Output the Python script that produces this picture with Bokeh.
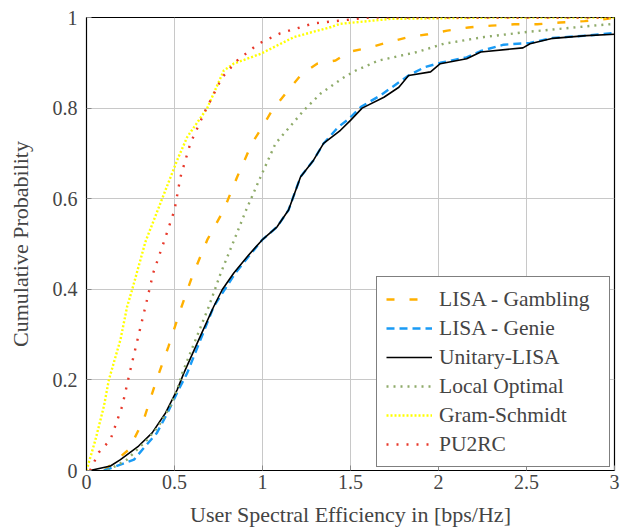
from bokeh.plotting import figure
from bokeh.models import Legend, LegendItem, FixedTicker, Range1d
from bokeh.embed import file_html
from bokeh.resources import INLINE

# ---- data ----
gambling_x = [0.10, 0.24, 0.325, 0.392, 0.466, 0.534, 0.60, 0.686, 0.78, 0.856, 0.94, 0.998, 1.055, 1.16,
              1.225, 1.31, 1.415, 1.49, 1.61, 1.72, 1.83, 1.94, 2.05, 2.17, 2.30, 2.43, 2.56, 2.69, 2.83, 2.96, 3.0]
gambling_y = [0.0, 0.046, 0.112, 0.193, 0.274, 0.355, 0.428, 0.509, 0.575, 0.648, 0.722, 0.758, 0.795, 0.846,
              0.876, 0.898, 0.905, 0.924, 0.934, 0.946, 0.957, 0.963, 0.971, 0.978, 0.982, 0.985, 0.985, 0.989, 0.992, 0.997, 1.0]

genie_x = [0.10, 0.27, 0.335, 0.40, 0.46, 0.523, 0.572, 0.648, 0.723, 0.846, 0.998, 1.083, 1.148, 1.216, 1.29,
           1.347, 1.43, 1.49, 1.56, 1.67, 1.75, 1.83, 1.92, 2.01, 2.16, 2.24, 2.37, 2.52, 2.65, 2.84, 3.0]
genie_y = [0.0, 0.024, 0.054, 0.083, 0.127, 0.178, 0.215, 0.289, 0.362, 0.436, 0.509, 0.538, 0.575, 0.648, 0.685,
           0.722, 0.758, 0.776, 0.803, 0.828, 0.850, 0.872, 0.890, 0.900, 0.912, 0.926, 0.940, 0.944, 0.955, 0.960, 0.966]

unitary_x = [0.02, 0.136, 0.193, 0.296, 0.373, 0.449, 0.515, 0.553, 0.638, 0.723, 0.771, 0.837, 0.913, 0.998,
             1.083, 1.148, 1.216, 1.29, 1.347, 1.443, 1.50, 1.566, 1.69, 1.775, 1.83, 1.955, 2.01, 2.16, 2.24,
             2.48, 2.52, 2.65, 2.84, 3.0]
unitary_y = [0.0, 0.010, 0.024, 0.054, 0.083, 0.127, 0.178, 0.215, 0.289, 0.362, 0.399, 0.436, 0.472, 0.509,
             0.538, 0.575, 0.648, 0.685, 0.722, 0.751, 0.773, 0.800, 0.824, 0.846, 0.872, 0.880, 0.898, 0.909,
             0.924, 0.933, 0.942, 0.954, 0.960, 0.963]

local_x = [0.12, 0.23, 0.345, 0.41, 0.477, 0.515, 0.544, 0.62, 0.695, 0.763, 0.835, 0.907, 0.989, 1.074, 1.235,
           1.33, 1.455, 1.53, 1.66, 1.88, 2.03, 2.26, 2.50, 2.69, 2.88, 3.0]
local_y = [0.0, 0.024, 0.068, 0.098, 0.142, 0.178, 0.215, 0.289, 0.362, 0.436, 0.505, 0.575, 0.648, 0.722, 0.795,
           0.832, 0.866, 0.883, 0.905, 0.924, 0.942, 0.957, 0.968, 0.975, 0.982, 0.986]

gram_x = [0.0, 0.051, 0.099, 0.127, 0.193, 0.231, 0.26, 0.335, 0.43, 0.515, 0.572, 0.686, 0.78, 0.836, 0.99,
          1.18, 1.39, 1.44, 1.73, 2.34, 3.0]
gram_y = [0.0, 0.068, 0.142, 0.2, 0.289, 0.362, 0.4, 0.505, 0.6, 0.685, 0.736, 0.8, 0.883, 0.898, 0.92,
          0.957, 0.979, 0.986, 0.997, 1.0, 1.0]

pu2rc_x = [0.02, 0.07, 0.136, 0.203, 0.245, 0.29, 0.335, 0.379, 0.44, 0.50, 0.534, 0.59, 0.676, 0.771, 0.856,
           0.977, 1.10, 1.29, 1.61, 3.0]
pu2rc_y = [0.0, 0.04, 0.068, 0.142, 0.215, 0.289, 0.362, 0.436, 0.505, 0.575, 0.648, 0.722, 0.795, 0.868, 0.905,
           0.942, 0.965, 0.987, 1.0, 1.0]

x_ticks = [0, 0.5, 1, 1.5, 2, 2.5, 3]
y_ticks = [0, 0.2, 0.4, 0.6, 0.8, 1]
x_tick_labels = {0: "0", 0.5: "0.5", 1: "1", 1.5: "1.5", 2: "2", 2.5: "2.5", 3: "3"}
y_tick_labels = {0: "0", 0.2: "0.2", 0.4: "0.4", 0.6: "0.6", 0.8: "0.8", 1: "1"}

FONT = "Liberation Serif"

p = figure(width=623, height=529, output_backend="svg", toolbar_location=None,
           x_range=Range1d(0, 3), y_range=Range1d(0, 1),
           min_border_left=86, min_border_right=9, min_border_top=17, min_border_bottom=58)
p.background_fill_color = "white"
p.border_fill_color = "white"
p.outline_line_color = "black"
p.outline_line_width = 1.2

for ax in (p.xaxis[0], p.yaxis[0]):
    ax.major_label_text_font = FONT
    ax.major_label_text_font_size = "20px"
    ax.axis_label_text_font = FONT
    ax.axis_label_text_font_size = "22px"
    ax.axis_label_text_font_style = "normal"
    ax.major_tick_in = 5
    ax.major_tick_out = 0
    ax.minor_tick_in = 0
    ax.minor_tick_out = 0
    ax.major_tick_line_color = "#888888"
    ax.axis_line_color = "black"

p.xaxis[0].ticker = FixedTicker(ticks=x_ticks)
p.yaxis[0].ticker = FixedTicker(ticks=y_ticks)
p.xaxis[0].major_label_overrides = x_tick_labels
p.yaxis[0].major_label_overrides = y_tick_labels
p.xaxis[0].axis_label = "User Spectral Efficiency in [bps/Hz]"
p.yaxis[0].axis_label = "Cumulative Probability"
p.xaxis[0].major_label_standoff = 4
p.yaxis[0].major_label_standoff = 9
p.xaxis[0].axis_label_standoff = 10
p.yaxis[0].axis_label_standoff = 17

p.xgrid.ticker = FixedTicker(ticks=x_ticks)
p.ygrid.ticker = FixedTicker(ticks=y_ticks)
p.grid.grid_line_color = "#c8c8c8"
p.grid.grid_line_width = 1

r_gam = p.line(gambling_x, gambling_y, line_color="#FFB000", line_width=2.4, line_dash="8 15")
r_gen = p.line(genie_x, genie_y, line_color="#1A9BF5", line_width=2.4, line_dash="8 5")
r_uni = p.line(unitary_x, unitary_y, line_color="black", line_width=1.6)
r_loc = p.line(local_x, local_y, line_color="#8FAB6A", line_width=2.4, line_dash="2 5")
r_gra = p.line(gram_x, gram_y, line_color="#FFFF00", line_width=2.4, line_dash="2 2")
r_pu = p.line(pu2rc_x, pu2rc_y, line_color="#E8392B", line_width=2.4, line_dash="2 8")

legend = Legend(items=[
    LegendItem(label="LISA - Gambling", renderers=[r_gam]),
    LegendItem(label="LISA - Genie", renderers=[r_gen]),
    LegendItem(label="Unitary-LISA", renderers=[r_uni]),
    LegendItem(label="Local Optimal", renderers=[r_loc]),
    LegendItem(label="Gram-Schmidt", renderers=[r_gra]),
    LegendItem(label="PU2RC", renderers=[r_pu]),
], location=(290, 3))
legend.margin = 0
legend.padding = 9
legend.spacing = 3
legend.glyph_width = 46
legend.glyph_height = 26
legend.label_height = 26
legend.label_width = 161
legend.label_standoff = 7
legend.label_text_font = FONT
legend.label_text_font_size = "21.5px"
legend.border_line_color = "black"
legend.border_line_width = 1
legend.background_fill_alpha = 1
p.add_layout(legend, "center")

open("out.html", "w").write(file_html(p, INLINE))
